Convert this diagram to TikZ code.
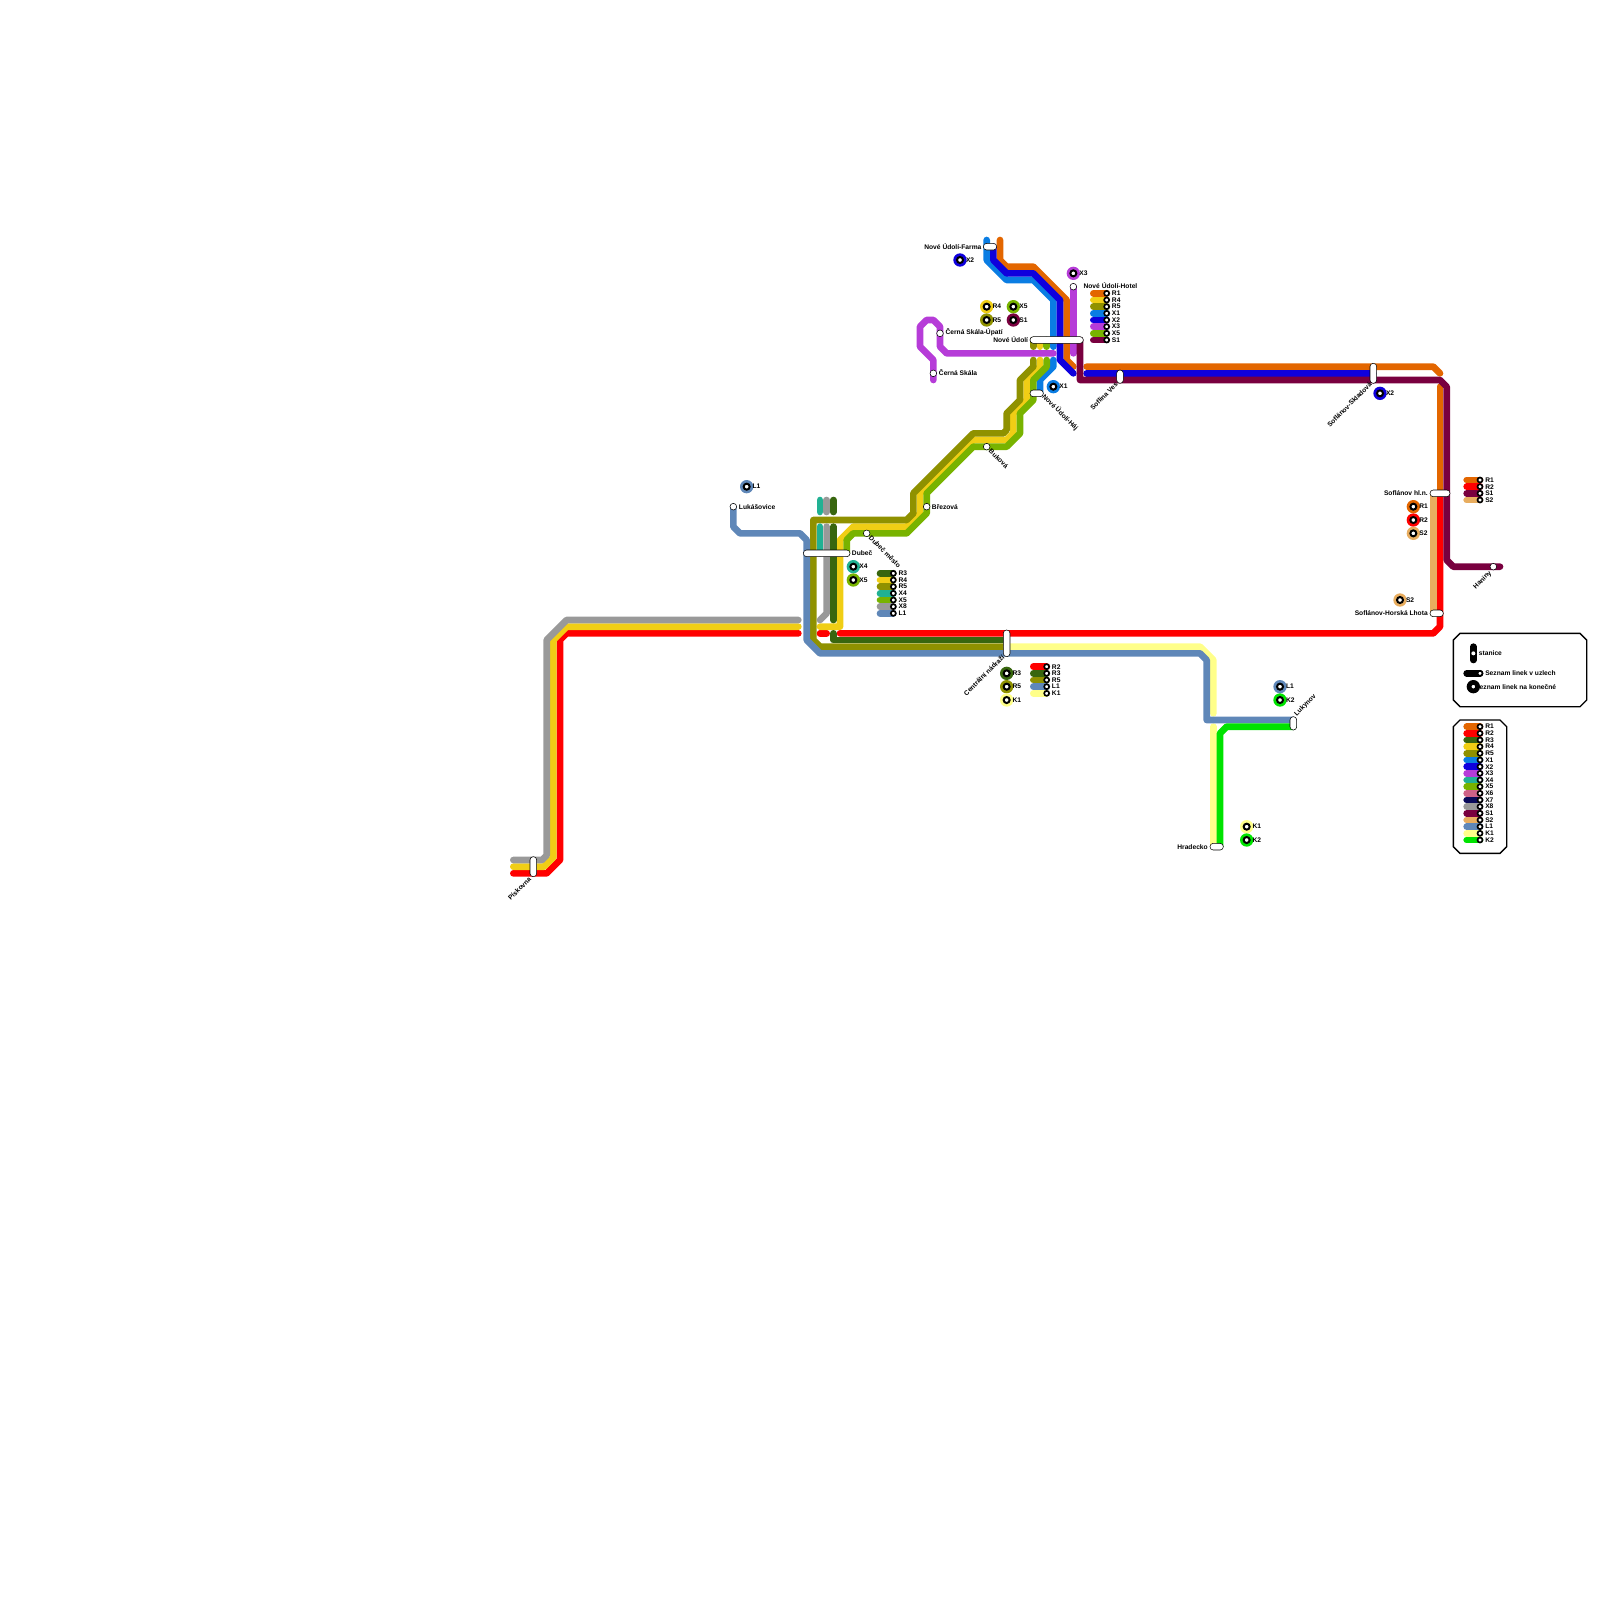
\documentclass[tikz,border=0pt]{standalone}
\usepackage{fontspec}
\setmainfont{Liberation Sans}
\usetikzlibrary{backgrounds}
\definecolor{R1}{HTML}{E36600}
\definecolor{R2}{HTML}{FF0000}
\definecolor{R3}{HTML}{38660F}
\definecolor{R4}{HTML}{F0CE15}
\definecolor{R5}{HTML}{8F9100}
\definecolor{X1}{HTML}{0A7DE3}
\definecolor{X2}{HTML}{0F00DD}
\definecolor{X3}{HTML}{B63CD8}
\definecolor{X4}{HTML}{21B193}
\definecolor{X5}{HTML}{78B300}
\definecolor{X6}{HTML}{CE6288}
\definecolor{X7}{HTML}{0A0A5A}
\definecolor{X8}{HTML}{999999}
\definecolor{S1}{HTML}{79003F}
\definecolor{S2}{HTML}{E8AD5F}
\definecolor{L1}{HTML}{5F87B8}
\definecolor{K1}{HTML}{FFFF8A}
\definecolor{K2}{HTML}{00E300}
\newcommand{\terminal}[4]{
    \node[terminalhalo,fill=#3] (#1) at (#2) {};
    \node[terminalring] (#1ring) at (#1.center) {};
    \node[maplabel,anchor=west,xshift=4.3pt] (#1label) at (#1.center) {#4};
}
\newcommand{\legendblock}[4]{
    \foreach \linecol [count=\row from #3] in {#4} {
        \node[keyring] (#1\row) at (#2,\row) {};
        \node[maplabel,anchor=west,xshift=3.75pt] (#1\row label) at (#1\row.center) {\linecol};
        \begin{scope}[on background layer]
            \draw[metro=\linecol] ([xshift=-10pt]#1\row.center) -- (#1\row.center);
        \end{scope}
    }
}

\begin{document}
\begin{tikzpicture}[
        x=5pt,
        y=-5pt,
        metro/.style={
            line width=5pt,
            line cap=round,
            line join=round,
            draw=#1
        },
        maplabel/.style={
            inner sep=0pt,
            text=black,
            font=\fontsize{5}{5}\selectfont\bfseries
        },
        stop/.style={
            circle,
            draw=black,
            fill=white,
            line width=0.4pt,
            inner sep=0pt,
            minimum size=5pt
        },
        pill/.style={
            rectangle,
            draw=black,
            fill=white,
            line width=0.4pt,
            rounded corners=2.4pt,
            inner sep=0pt,
            minimum width=5pt,
            minimum height=5pt
        },
        terminalhalo/.style={
            circle,
            inner sep=0pt,
            minimum size=10pt
        },
        terminalring/.style={
            circle,
            draw=black,
            fill=white,
            line width=1.5pt,
            inner sep=0pt,
            minimum size=4.5pt
        },
        keyring/.style={
            circle,
            draw=black,
            fill=white,
            line width=1.25pt,
            inner sep=0pt,
            minimum size=3.75pt
        },
        legendframe/.style={
            draw=black,
            line width=1pt
        }
    ]
        \useasboundingbox (0,0) rectangle (240,240);

        % stations
        \node[pill,minimum width=10pt] (farma) at (148.5,37) {};
        \node[pill,minimum width=40pt] (noveudoli) at (158.5,51) {};
        \node[pill,minimum width=10pt] (haj) at (155.5,59) {};
        \node[pill,minimum height=10pt] (sofinaves) at (168,56.5) {};
        \node[pill,minimum height=15pt] (skladova) at (206,56) {};
        \node[pill,minimum width=15pt] (hlavni) at (216,74) {};
        \node[pill,minimum width=10pt] (horskalhota) at (215.5,92) {};
        \node[pill,minimum width=35pt] (dubec) at (124,83) {};
        \node[pill,minimum height=20pt] (centralni) at (151,96.5) {};
        \node[pill,minimum width=10pt] (hradecko) at (182.5,127) {};
        \node[pill,minimum height=10pt] (lukynov) at (194,108.5) {};
        \node[pill,minimum height=15pt] (piskovna) at (80,130) {};
        \node[stop] (hotel) at (161,43) {};
        \node[stop] (upati) at (141,50) {};
        \node[stop] (cernaskala) at (140,56) {};
        \node[stop] (bukova) at (148,67) {};
        \node[stop] (brezova) at (139,76) {};
        \node[stop] (dubecmesto) at (130,80) {};
        \node[stop] (lukasovice) at (110,76) {};
        \node[stop] (haniny) at (224,85) {};

        % station names
        \node[maplabel,anchor=east] (farmalabel) at (147.25,37) {Nové Údolí-Farma};
        \node[maplabel,anchor=west] (hotellabel) at (162.5,42.9) {Nové Údolí-Hotel};
        \node[maplabel,anchor=west] (upatilabel) at (141.8,49.9) {Černá Skála-Úpatí};
        \node[maplabel,anchor=west] (cernaskalalabel) at (140.8,55.9) {Černá Skála};
        \node[maplabel,anchor=east] (noveudolilabel) at (154.25,51) {Nové Údolí};
        \node[maplabel,anchor=west,rotate=-45] (hajlabel) at (156.5,59.3) {Nové Údolí-Háj};
        \node[maplabel,anchor=west,rotate=-45] (bukovalabel) at (148.5,67.5) {Buková};
        \node[maplabel,anchor=east,rotate=45] (sofinaveslabel) at (167.5,57.5) {Soflina Ves};
        \node[maplabel,anchor=east,rotate=45] (skladovalabel) at (205.6,57.5) {Soflánov-Skladová};
        \node[maplabel,anchor=west] (dubeclabel) at (127.75,83) {Dubeč};
        \node[maplabel,anchor=west,rotate=-45] (dubecmestolabel) at (130.5,80.5) {Dubeč město};
        \node[maplabel,anchor=west] (brezovalabel) at (139.75,76) {Březová};
        \node[maplabel,anchor=west] (lukasovicelabel) at (110.8,76) {Lukášovice};
        \node[maplabel,anchor=east,rotate=45] (centralnilabel) at (150.5,98.4) {Centrální nádraží};
        \node[maplabel,anchor=east] (hradeckolabel) at (181.2,127) {Hradecko};
        \node[maplabel,anchor=west,rotate=45] (lukynovlabel) at (194.3,107.3) {Lukynov};
        \node[maplabel,anchor=east] (hlavnilabel) at (214.2,73.9) {Soflánov hl.n.};
        \node[maplabel,anchor=east] (horskalhotalabel) at (214.2,91.9) {Soflánov-Horská Lhota};
        \node[maplabel,anchor=east,rotate=45] (haninylabel) at (223.6,85.8) {Haniny};
        \node[maplabel,anchor=east,rotate=45] (piskovnalabel) at (79.5,131.7) {Pískovna};

        % line ends
        \terminal{endfarmaXtwo}{144,39}{X2}{X2}
        \terminal{endupatiRfour}{148,46}{R4}{R4}
        \terminal{endupatiRfive}{148,48}{R5}{R5}
        \terminal{endupatiXfive}{152,46}{X5}{X5}
        \terminal{endupatiSone}{152,48}{S1}{S1}
        \terminal{endhotelXthree}{161,41}{X3}{X3}
        \terminal{endhajXone}{158,58}{X1}{X1}
        \terminal{endlukasoviceLone}{112,73}{L1}{L1}
        \terminal{enddubecXfour}{128,85}{X4}{X4}
        \terminal{enddubecXfive}{128,87}{X5}{X5}
        \terminal{endcentralniRthree}{151,101}{R3}{R3}
        \terminal{endcentralniRfive}{151,103}{R5}{R5}
        \terminal{endcentralniKone}{151,105}{K1}{K1}
        \terminal{endlukynovLone}{192,103}{L1}{L1}
        \terminal{endlukynovKtwo}{192,105}{K2}{K2}
        \terminal{endhradeckoKone}{187,124}{K1}{K1}
        \terminal{endhradeckoKtwo}{187,126}{K2}{K2}
        \terminal{endhlavniRone}{212,76}{R1}{R1}
        \terminal{endhlavniRtwo}{212,78}{R2}{R2}
        \terminal{endhlavniStwo}{212,80}{S2}{S2}
        \terminal{endlhotaStwo}{210,90}{S2}{S2}
        \terminal{endskladovaXtwo}{207,59}{X2}{X2}

        % lines
        \begin{scope}[on background layer]
            \draw[metro=R1] (150,36) -- (150,39) -- (151,40) -- (155,40) -- (160,45) -- (160,54) -- (161,55);
            \draw[metro=R1] (163,55) -- (215,55) -- (216,56);
            \draw[metro=R1] (216,58) -- (hlavni.center);

            \draw[metro=R2] (77,131) -- (82,131) -- (84,129) -- (84,96) -- (85,95) -- (119.75,95);
            \draw[metro=R2] (123,95) -- (124,95);
            \draw[metro=R2] (126,95) -- (215,95) -- (216,94) -- (hlavni.center);

            \draw[metro=R4] (77,130) -- (81.6,130) -- (83,128.6) -- (83,96) -- (85,94) -- (119.75,94);
            \draw[metro=R4] (123,94) -- (126,94) -- (126,81) -- (128,79) -- (136,79) -- (138,77) -- (138,74) -- (146,66) -- (151,66) -- (152,65) -- (152,62) -- (154,60) -- (154,57) -- (156,55) -- (156,54);
            \draw[metro=R4] (156,51) -- (156,52);

            \draw[metro=R5] (122,83) -- (122,78) -- (136,78) -- (137,77) -- (137,74) -- (146,65) -- (150.5,65) -- (151,64.5) -- (151,62) -- (153,60) -- (153,57) -- (155,55) -- (155,54);
            \draw[metro=R5] (122,83) -- (122,96) -- (123,97) -- (151,97);
            \draw[metro=R5] (155,51) -- (155,52);

            \draw[metro=X1] (148,36) -- (148,39) -- (151,42) -- (155,42) -- (158,45) -- (158,52);
            \draw[metro=X1] (158,54) -- (158,55) -- (156,57) -- (156,59);

            \draw[metro=X2] (149,37) -- (149,39) -- (151,41) -- (155,41) -- (159,45) -- (159,54) -- (161,56);
            \draw[metro=X2] (163,56) -- (skladova.center);

            \draw[metro=X3] (hotel.center) -- (161,53);
            \draw[metro=X3] (158,53) -- (142,53) -- (141,52) -- (upati.center) -- (141,49) -- (140,48) -- (139,48) -- (138,49) -- (138,52) -- (140,54) -- (cernaskala.center) -- (140,57);

            \draw[metro=X4] (123,75) -- (123,76.8);
            \draw[metro=X4] (123,79) -- (123,83);

            \draw[metro=X5] (157,51) -- (157,52);
            \draw[metro=X5] (157,54) -- (157,55) -- (155,57) -- (155,60) -- (153,62) -- (153,65) -- (151,67) -- (146,67) -- (139,74) -- (139,77) -- (136,80) -- (128,80) -- (127,81) -- (127,83);

            \draw[metro=X8] (77,129) -- (81.3,129) -- (82,128.3) -- (82,96) -- (85,93) -- (119.75,93);
            \draw[metro=X8] (124,75) -- (124,76.8);
            \draw[metro=X8] (123,93) -- (124,92) -- (124,79);

            \draw[metro=R3] (125,75) -- (125,76.8);
            \draw[metro=R3] (125,79) -- (125,93);
            \draw[metro=R3] (125,95) -- (125,96) -- (151,96);

            \draw[metro=S1] (162,51) -- (162,57) -- (216,57) -- (217,58) -- (217,84) -- (218,85) -- (haniny.center) -- (225,85);

            \draw[metro=S2] (215,74) -- (215,92);

            \draw[metro=K1] (151,97) -- (180,97) -- (182,99) -- (182,107);
            \draw[metro=K1] (182,109) -- (182,127);

            \draw[metro=L1] (lukasovice.center) -- (110,79) -- (111,80) -- (120,80) -- (121,81) -- (121,96) -- (123,98) -- (180,98) -- (181,99) -- (181,108) -- (194,108);

            \draw[metro=K2] (194,109) -- (184,109) -- (183,110) -- (183,127);
        \end{scope}

        % line lists at the stations
        \legendblock{keyhotel}{166}{44}{R1,R4,R5,X1,X2,X3,X5,S1}
        \legendblock{keydubec}{134}{86}{R3,R4,R5,X4,X5,X8,L1}
        \legendblock{keycentralni}{157}{100}{R2,R3,R5,L1,K1}
        \legendblock{keyhlavni}{222}{72}{R1,R2,S1,S2}

        % explanation box
        \draw[legendframe] (219,95) -- (237,95) -- (238,96) -- (238,105) -- (237,106) -- (219,106) -- (218,105) -- (218,96) -- cycle;
        \draw[line width=5pt,line cap=round] (221,97) -- (221,99);
        \node[circle,fill=white,inner sep=0pt,minimum size=3pt] (samplestation) at (221,98) {};
        \node[maplabel,anchor=west] (samplestationlabel) at (221.8,98) {stanice};
        \node[keyring] (samplelist) at (222,101) {};
        \begin{scope}[on background layer]
            \draw[line width=5pt,line cap=round] ([xshift=-10pt]samplelist.center) -- (samplelist.center);
        \end{scope}
        \node[maplabel,anchor=west] (samplelistlabel) at (222.75,101) {Seznam linek v uzlech};
        \node[maplabel,anchor=west] (sampleendlabel) at (221.25,103) {Seznam linek na konečné};
        \terminal{sampleend}{221,103}{black}{}

        % colour key
        \draw[legendframe] (219,108) -- (225,108) -- (226,109) -- (226,127) -- (225,128) -- (219,128) -- (218,127) -- (218,109) -- cycle;
        \legendblock{keymain}{222}{109}{R1,R2,R3,R4,R5,X1,X2,X3,X4,X5,X6,X7,X8,S1,S2,L1,K1,K2}
    \end{tikzpicture}
\end{document}
